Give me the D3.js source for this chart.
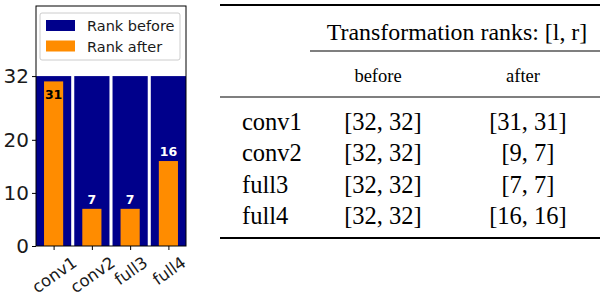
<!DOCTYPE html>
<html><head><meta charset="utf-8">
<script src="https://cdnjs.cloudflare.com/ajax/libs/d3/7.8.5/d3.min.js"></script>
<style>body{margin:0;background:#fff}svg{display:block}</style>
</head><body>
<svg id="c" width="600" height="297"></svg>
<script>
const categories = ["conv1", "conv2", "full3", "full4"];
const rankBefore = [32, 32, 32, 32];
const rankAfter = [31, 7, 7, 16];
const yTicks = [0, 10, 20, 32];
const legendLabels = ["Rank before", "Rank after"];
const tableTitle = "Transformation ranks: [l, r]";
const tableCols = ["before", "after"];
const tableBefore = [[32, 32], [32, 32], [32, 32], [32, 32]];
const tableAfter = [[31, 31], [9, 7], [7, 7], [16, 16]];

const svg = d3.select("#c");
const BLUE = "#00008b", ORANGE = "#ff8c00";
const L = 36, R = 186, T = 6, B = 246;
const x = d3.scaleLinear().domain([-0.46, 3.46]).range([L, R]);
const y = d3.scaleLinear().domain([0, 45.2]).range([B, T]);
const k = x(1) - x(0);

const g = svg.append("g");
g.selectAll("rect.before").data(rankBefore).join("rect")
  .attr("x", (d, i) => x(i - 0.46)).attr("width", 0.92 * k)
  .attr("y", d => y(d)).attr("height", d => y(0) - y(d)).attr("fill", BLUE);
g.selectAll("rect.after").data(rankAfter).join("rect")
  .attr("x", (d, i) => x(i - 0.25)).attr("width", 0.5 * k)
  .attr("y", d => y(d)).attr("height", d => y(0) - y(d)).attr("fill", ORANGE);
g.selectAll("text.lab").data(rankAfter).join("text")
  .attr("x", (d, i) => x(i))
  .attr("y", d => d > 28 ? y(d) + 17.5 : y(d) - 5)
  .attr("text-anchor", "middle")
  .attr("font-family", "DejaVu Sans").attr("font-weight", "bold").attr("font-size", 12.5)
  .attr("fill", d => d > 28 ? "#000" : "#fff")
  .text(d => d);

// frame
svg.append("rect").attr("x", L).attr("y", T).attr("width", R - L).attr("height", B - T)
  .attr("fill", "none").attr("stroke", "#000").attr("stroke-width", 1);

// y axis
const ya = svg.append("g").attr("transform", `translate(${L},0)`)
  .call(d3.axisLeft(y).tickValues(yTicks).tickSize(4).tickPadding(3));
ya.select(".domain").remove();
ya.attr("font-size", null).attr("font-family", null);
ya.selectAll("text").attr("font-family", "DejaVu Sans").attr("font-size", 20).attr("fill", "#1a1a1a");
// x axis: labels rotated about their centre, centred on the tick, top at fixed offset
const ANG = 35, FS = 16.5, TOP = 9;
const xa = svg.append("g").attr("transform", `translate(0,${B})`)
  .call(d3.axisBottom(x).tickValues(d3.range(categories.length)).tickFormat(i => categories[i]).tickSize(4));
xa.select(".domain").remove();
xa.attr("font-size", null).attr("font-family", null);
xa.selectAll("text").attr("font-family", "DejaVu Sans").attr("font-size", FS).attr("fill", "#1a1a1a")
  .attr("text-anchor", "middle").attr("y", 0).attr("dy", "0.37em")
  .each(function () {
    const w = this.getComputedTextLength();
    const a = ANG * Math.PI / 180;
    const hh = w * Math.sin(a) + 0.76 * FS * Math.cos(a);
    d3.select(this).attr("transform", `translate(0,${TOP + hh / 2}) rotate(-${ANG})`);
  });

// legend
const lg = svg.append("g");
lg.append("rect").attr("x", 40).attr("y", 13).attr("width", 140).attr("height", 47).attr("rx", 2)
  .attr("fill", "#fff").attr("stroke", "#ccc").attr("stroke-width", 1);
[BLUE, ORANGE].forEach((c, i) => {
  lg.append("rect").attr("x", 46).attr("y", 20 + i * 20.5).attr("width", 29).attr("height", 11).attr("fill", c);
  lg.append("text").attr("x", 87).attr("y", 31 + i * 20.5).attr("font-family", "DejaVu Sans")
    .attr("font-size", 14.5).attr("fill", "#1a1a1a").text(legendLabels[i]);
});

// table
const tb = svg.append("g").attr("font-family", "Liberation Serif").attr("fill", "#000");
const line = (x1, x2, yy, w) => tb.append("line").attr("x1", x1).attr("x2", x2).attr("y1", yy).attr("y2", yy)
  .attr("stroke", "#000").attr("stroke-width", w);
line(220, 600, 5, 2.2);
tb.append("text").attr("x", 457).attr("y", 40).attr("text-anchor", "middle").attr("font-size", 23.9).text(tableTitle);
line(310, 600, 51, 1.2);
const cx = [383, 528];
tb.append("text").attr("x", 378).attr("y", 82).attr("text-anchor", "middle").attr("font-size", 18.5).text(tableCols[0]);
tb.append("text").attr("x", 523).attr("y", 82).attr("text-anchor", "middle").attr("font-size", 18.5).text(tableCols[1]);
line(220, 600, 97, 1.2);
const fmt = p => `[${p[0]}, ${p[1]}]`;
categories.forEach((c, i) => {
  const by = 130 + i * 31.3;
  tb.append("text").attr("x", 242).attr("y", by).attr("font-size", 24.5).text(c);
  tb.append("text").attr("x", cx[0]).attr("y", by).attr("text-anchor", "middle").attr("font-size", 24.5).text(fmt(tableBefore[i]));
  tb.append("text").attr("x", cx[1]).attr("y", by).attr("text-anchor", "middle").attr("font-size", 24.5).text(fmt(tableAfter[i]));
});
line(220, 600, 238, 2.2);
</script>
</body></html>
